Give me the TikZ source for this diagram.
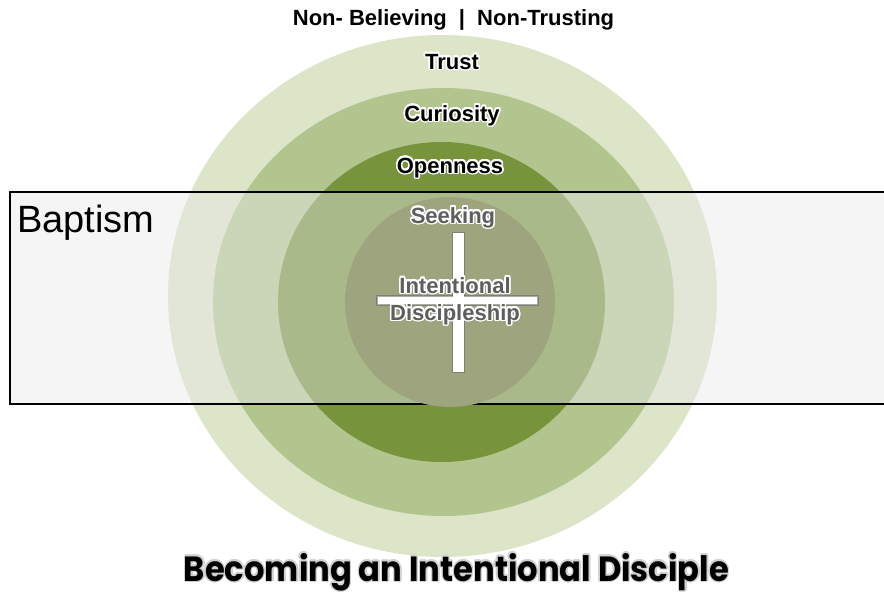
\documentclass[tikz,border=0pt]{standalone}
\usepackage{fontspec}
\setmainfont{Liberation Sans}
\newfontfamily\titlefont{Poppins}
\usepackage{contour}
\contournumber{16}
\definecolor{ringOuter}{HTML}{DDE5C9}
\definecolor{ringMid}{HTML}{B3C58E}
\definecolor{ringDeep}{HTML}{77933C}
\definecolor{coreFill}{HTML}{9EA47E}
\definecolor{bandFill}{HTML}{E9E9E9}
\definecolor{softText}{HTML}{5E5E5E}
\begin{document}
\begin{tikzpicture}[x=1pt,y=-1pt,
  stage/.style={inner sep=0pt, anchor=base, font=\bfseries\fontsize{22}{24}\selectfont},
  inner/.style={stage, text=softText},
  crossbar/.style={fill=white, draw=gray!80!black, draw opacity=0.55, line width=2pt}]
\useasboundingbox (0,0) rectangle (884,595);
\fill[white] (0,0) rectangle (884,595);

% concentric stages
\fill[ringOuter] (442.5,296) ellipse [x radius=274.5, y radius=261];
\fill[ringMid]   (443.5,302) ellipse [x radius=230.5, y radius=214];
\fill[ringDeep]  (441.5,302) ellipse [x radius=163.5, y radius=160];

% baptism band
\fill[bandFill, fill opacity=0.45] (10,192) rectangle (890,404);
\draw[line width=1.8pt] (890,192) -- (10,192) -- (10,404) -- (890,404);

% innermost circle
\fill[coreFill] (450,302) circle [radius=105];

% cross
\draw[crossbar] (453,233) rectangle (464,372);
\draw[crossbar] (377,296) rectangle (538,305);
\fill[white] (453,233) rectangle (464,372);

% labels
\node[stage] (head) at (453.5,25) {Non- Believing\hspace{0.55em}|\hspace{0.55em}Non-Trusting};
\contourlength{1.5pt}
\node[stage] (trust) at (452,69) {\contour{white}{Trust}};
\node[stage] (curiosity) at (452,121) {\contour{white}{Curiosity}};
\node[stage] (openness) at (450,173) {\contour{white}{Openness}};
\node[inner] (seeking) at (453,223) {\contour{white}{Seeking}};
\node[inner] (intent) at (455,293) {\contour{white}{Intentional}};
\node[inner] (disc) at (455,320) {\contour{white}{Discipleship}};
\node[inner sep=0pt, anchor=base west, font=\fontsize{38}{40}\selectfont] (baptism) at (17,232) {Baptism};

% title with a soft grey halo
\contourlength{1.4pt}
\node[inner sep=0pt, anchor=base, xscale=0.92, font=\titlefont\bfseries\fontsize{35}{37}\selectfont] (title) at (456.5,581)
  {\contour{gray!35}{Becoming an Intentional Disciple}};
\end{tikzpicture}
\end{document}
